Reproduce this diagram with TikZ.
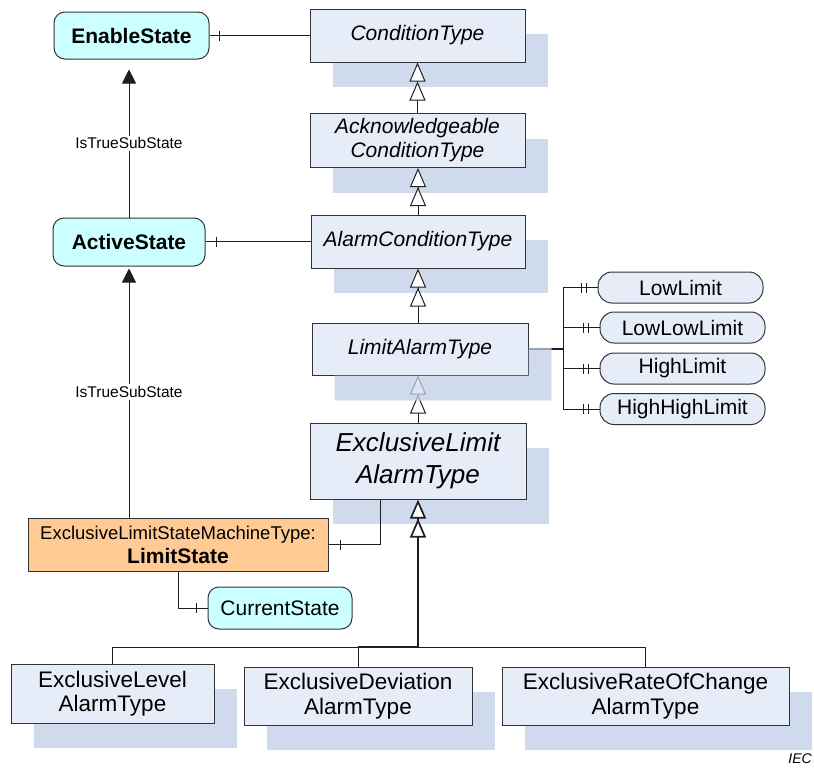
\documentclass[tikz,border=0pt]{standalone}
\usepackage{fontspec}
\setmainfont{Liberation Sans}
\usetikzlibrary{arrows.meta,calc,shadows}

\definecolor{clsfill}{HTML}{E7EDF8}
\definecolor{shadowc}{HTML}{CFDBEC}
\definecolor{statefill}{HTML}{CCFFFF}
\definecolor{smfill}{HTML}{FFCA94}
\definecolor{edge}{HTML}{333333}
\definecolor{wire}{HTML}{1E1E1E}

\tikzset{
  boxshadow/.style={general shadow={fill=shadowc, shadow xshift=23pt, shadow yshift=-25pt}},
  cls/.style={draw=edge, line width=1pt, fill=clsfill, inner sep=0pt, align=center,
    boxshadow, font=\fontsize{21}{24}\selectfont\itshape},
  bigcls/.style={cls, font=\fontsize{26}{32}\selectfont\itshape},
  leafcls/.style={cls, font=\fontsize{22.5}{24.5}\selectfont},
  state/.style={draw=edge, line width=1pt, fill=statefill, rounded corners=11pt, inner sep=0pt,
    font=\fontsize{21}{24}\selectfont\bfseries},
  plainstate/.style={state, font=\fontsize{21}{24}\selectfont},
  machine/.style={draw=edge, line width=1pt, fill=smfill, inner sep=0pt, align=center},
  pill/.style={draw=edge, line width=1pt, fill=clsfill, rounded corners=14pt, inner sep=0pt,
    minimum width=165pt, minimum height=31pt, font=\fontsize{21}{24}\selectfont},
  reflink/.style={draw=wire, line width=1pt},
  subtype/.style={draw=wire, line width=1pt,
    -{Triangle[length=19pt,width=16pt,fill=white,sep=0pt] Triangle[length=19pt,width=16pt,fill=white,sep=0pt]}},
  istrue/.style={draw=wire, line width=1pt, -{Triangle[length=14pt,width=14pt]}},
  lbl/.style={fill=white, inner sep=2pt, font=\fontsize{15.5}{18}\selectfont},
}

\begin{document}
\begin{tikzpicture}[x=1pt, y=-1pt]
\useasboundingbox (0,0) rectangle (814,769);

% state variables
\node[state, minimum width=155pt, minimum height=47pt] (en) at (131.5,35.5) {EnableState};
\node[state, minimum width=152pt, minimum height=48pt] (as) at (129,242) {ActiveState};

% type hierarchy
\node[cls, minimum width=215pt, minimum height=53pt] (ct) at (417.5,35.5) {ConditionType};
\node[cls, minimum width=215pt, minimum height=54pt] (ack) at (417.5,140.5) {Acknowledgeable\\ConditionType};
\node[cls, minimum width=214pt, minimum height=53pt] (alarm) at (418,241.5) {AlarmConditionType};
\node[cls, minimum width=216pt, minimum height=52pt] (lim) at (420,349) {LimitAlarmType};
\node[bigcls, minimum width=216pt, minimum height=76pt] (excl) at (418,461) {ExclusiveLimit\\AlarmType};

% state machine and its current state
\node[machine, minimum width=300pt, minimum height=53pt] (ls) at (178,544.5)
  {{\fontsize{18.5}{21}\selectfont ExclusiveLimitStateMachineType:}\\[4pt]{\fontsize{21}{23}\selectfont\bfseries LimitState}};
\node[plainstate, minimum width=144pt, minimum height=42pt] (cs) at (280,608) {CurrentState};

% limit properties
\node[pill] (ll)  at (680.5,287.5) {LowLimit};
\node[pill] (lll) at (682.5,327.5) {LowLowLimit};
\node[pill] (hl)  at (682.5,368.5) {HighLimit};
\node[pill] (hhl) at (682.5,409)   {HighHighLimit};

% concrete subtypes
\node[leafcls, minimum width=203pt, minimum height=59pt] (lvl) at (112.5,693.5) {ExclusiveLevel\\AlarmType};
\node[leafcls, minimum width=228pt, minimum height=58pt] (dev) at (358,696) {ExclusiveDeviation\\AlarmType};
\node[leafcls, minimum width=287pt, minimum height=58pt] (roc) at (645.5,696) {ExclusiveRateOfChange\\AlarmType};

\node[anchor=east, inner sep=0pt, font=\fontsize{14}{16}\selectfont\itshape] (iec) at (812,759) {IEC};

% subtype relations
\draw[subtype] (ack.north) -- (ct.south);
\draw[subtype] (alarm.north) -- (alarm.north |- ack.south);
\draw[subtype] (alarm.south |- lim.north) -- (alarm.south);
\draw[subtype] (excl.north) -- (excl.north |- lim.south);

\coordinate (hb) at (418,647);
\draw[reflink] (lvl.north) |- (hb) -| (roc.north);
\draw[reflink] (dev.north) -- (dev.north |- hb);
\draw[subtype, line width=1.7pt] (dev.north |- hb) -| (excl.south);

% IsTrueSubState references
\draw[istrue, shorten >=10pt] (as.north) -- (en.south -| as.north)
  node[lbl, pos=0.47] (lblA) {IsTrueSubState};
\draw[istrue, shorten >=2pt] (as.south |- ls.north) -- (as.south)
  node[lbl, pos=0.5] (lblB) {IsTrueSubState};

% component references with cardinality ticks
\draw[reflink] (ct.west) -- (en.east);
\draw[reflink] ($(en.east)+(10,-5)$) -- ++(0,10);
\draw[reflink] (alarm.west) -- (alarm.west -| as.east);
\draw[reflink] ($(alarm.west -| as.east)+(11,-5)$) -- ++(0,10);
\draw[reflink] ($(excl.south west)+(71,0)$) |- (ls.east);
\draw[reflink] ($(ls.east)+(12,-5)$) -- ++(0,10);
\draw[reflink] (ls.south) |- (cs.west);
\draw[reflink] ($(cs.west)+(-11,-5)$) -- ++(0,10);

% limit properties fan-out
\coordinate (bus) at (563,349);
\draw[draw=wire, line width=1.6pt] (lim.east) -- (lim.east -| bus);
\draw[reflink] (ll.west -| bus) -- (hhl.west -| bus);
\foreach \p in {ll,lll,hl,hhl}{
  \draw[reflink] (\p.west -| bus) -- (\p.west);
  \draw[reflink] ($(\p.west)+(-16,-5)$) -- ++(0,10) ($(\p.west)+(-11,-5)$) -- ++(0,10);
}

% the visible part of the LimitAlarmType shadow lies over its outgoing lines
\fill[shadowc, opacity=0.7]
  ($(lim.north east)+(0,25)$) -- ($(lim.north east)+(23,25)$)
  -- ($(lim.south east)+(23,25)$) -- ($(lim.south west)+(23,25)$)
  -- ($(lim.south west)+(23,0)$) -- (lim.south east) -- cycle;
\end{tikzpicture}
\end{document}
